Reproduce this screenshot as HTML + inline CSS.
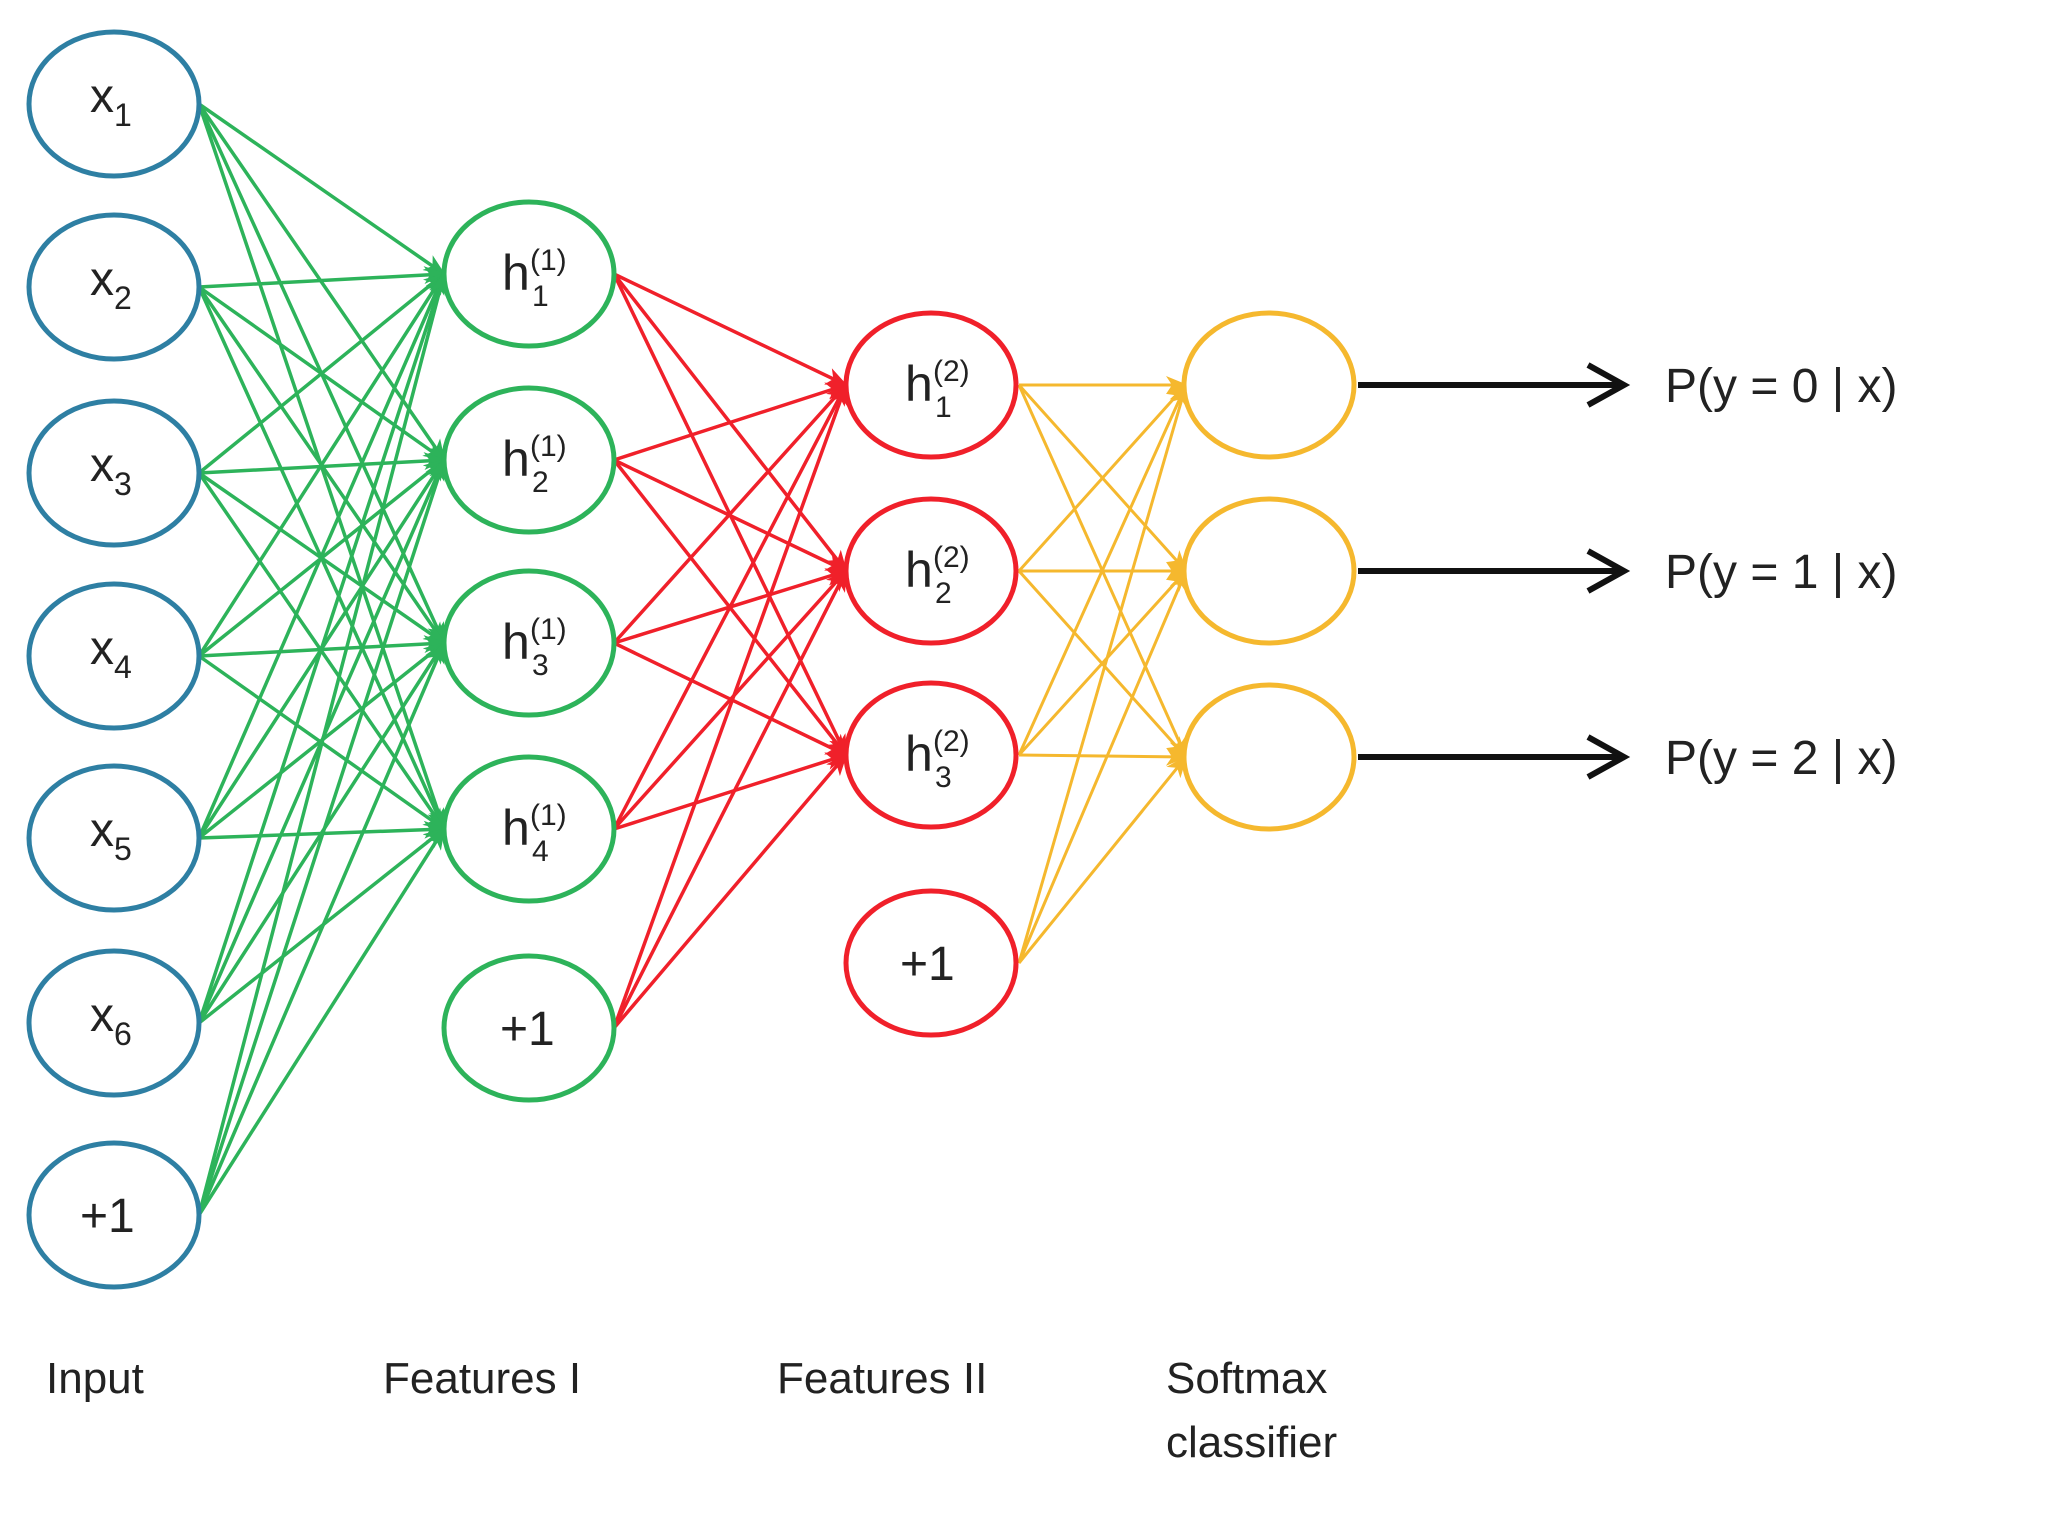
<!DOCTYPE html>
<html><head><meta charset="utf-8"><style>
html,body{margin:0;padding:0;background:#fff;}
svg{display:block;}
text{font-family:"Liberation Sans",sans-serif;fill:#222;}
</style></head><body>
<svg width="2048" height="1536" viewBox="0 0 2048 1536" xmlns="http://www.w3.org/2000/svg">
<defs>
<marker id="ag" markerUnits="userSpaceOnUse" markerWidth="22" markerHeight="18" refX="20" refY="9" orient="auto"><path d="M0,0 L22,9 L0,18 L6,9 Z" fill="#2db35a"/></marker>
<marker id="ar" markerUnits="userSpaceOnUse" markerWidth="22" markerHeight="18" refX="20" refY="9" orient="auto"><path d="M0,0 L22,9 L0,18 L6,9 Z" fill="#f0202a"/></marker>
<marker id="ay" markerUnits="userSpaceOnUse" markerWidth="22" markerHeight="18" refX="20" refY="9" orient="auto"><path d="M0,0 L22,9 L0,18 L6,9 Z" fill="#f5b82e"/></marker>
</defs>
<g stroke="#2db35a" stroke-width="3.5" marker-end="url(#ag)">
<line x1="199" y1="104" x2="444" y2="274"/><line x1="199" y1="104" x2="444" y2="460"/><line x1="199" y1="104" x2="444" y2="643"/><line x1="199" y1="104" x2="444" y2="829"/>
<line x1="199" y1="287" x2="444" y2="274"/><line x1="199" y1="287" x2="444" y2="460"/><line x1="199" y1="287" x2="444" y2="643"/><line x1="199" y1="287" x2="444" y2="829"/>
<line x1="199" y1="473" x2="444" y2="274"/><line x1="199" y1="473" x2="444" y2="460"/><line x1="199" y1="473" x2="444" y2="643"/><line x1="199" y1="473" x2="444" y2="829"/>
<line x1="199" y1="656" x2="444" y2="274"/><line x1="199" y1="656" x2="444" y2="460"/><line x1="199" y1="656" x2="444" y2="643"/><line x1="199" y1="656" x2="444" y2="829"/>
<line x1="199" y1="838" x2="444" y2="274"/><line x1="199" y1="838" x2="444" y2="460"/><line x1="199" y1="838" x2="444" y2="643"/><line x1="199" y1="838" x2="444" y2="829"/>
<line x1="199" y1="1023" x2="444" y2="274"/><line x1="199" y1="1023" x2="444" y2="460"/><line x1="199" y1="1023" x2="444" y2="643"/><line x1="199" y1="1023" x2="444" y2="829"/>
<line x1="199" y1="1215" x2="444" y2="274"/><line x1="199" y1="1215" x2="444" y2="460"/><line x1="199" y1="1215" x2="444" y2="643"/><line x1="199" y1="1215" x2="444" y2="829"/>
</g>
<g stroke="#f0202a" stroke-width="3.5" marker-end="url(#ar)">
<line x1="614" y1="274" x2="846" y2="385"/><line x1="614" y1="274" x2="846" y2="571"/><line x1="614" y1="274" x2="846" y2="755"/>
<line x1="614" y1="460" x2="846" y2="385"/><line x1="614" y1="460" x2="846" y2="571"/><line x1="614" y1="460" x2="846" y2="755"/>
<line x1="614" y1="643" x2="846" y2="385"/><line x1="614" y1="643" x2="846" y2="571"/><line x1="614" y1="643" x2="846" y2="755"/>
<line x1="614" y1="829" x2="846" y2="385"/><line x1="614" y1="829" x2="846" y2="571"/><line x1="614" y1="829" x2="846" y2="755"/>
<line x1="614" y1="1028" x2="846" y2="385"/><line x1="614" y1="1028" x2="846" y2="571"/><line x1="614" y1="1028" x2="846" y2="755"/>
</g>
<g stroke="#f5b82e" stroke-width="3" marker-end="url(#ay)">
<line x1="1019" y1="385" x2="1186" y2="385"/><line x1="1019" y1="385" x2="1186" y2="571"/><line x1="1019" y1="385" x2="1186" y2="757"/>
<line x1="1019" y1="571" x2="1186" y2="385"/><line x1="1019" y1="571" x2="1186" y2="571"/><line x1="1019" y1="571" x2="1186" y2="757"/>
<line x1="1019" y1="755" x2="1186" y2="385"/><line x1="1019" y1="755" x2="1186" y2="571"/><line x1="1019" y1="755" x2="1186" y2="757"/>
<line x1="1019" y1="963" x2="1186" y2="385"/><line x1="1019" y1="963" x2="1186" y2="571"/><line x1="1019" y1="963" x2="1186" y2="757"/>
</g>
<g fill="#fff" stroke-width="5">
<g stroke="#2e7fa3">
<ellipse cx="114" cy="104" rx="85" ry="72"/><ellipse cx="114" cy="287" rx="85" ry="72"/><ellipse cx="114" cy="473" rx="85" ry="72"/><ellipse cx="114" cy="656" rx="85" ry="72"/><ellipse cx="114" cy="838" rx="85" ry="72"/><ellipse cx="114" cy="1023" rx="85" ry="72"/><ellipse cx="114" cy="1215" rx="85" ry="72"/>
</g>
<g stroke="#2db35a">
<ellipse cx="529" cy="274" rx="85" ry="72"/><ellipse cx="529" cy="460" rx="85" ry="72"/><ellipse cx="529" cy="643" rx="85" ry="72"/><ellipse cx="529" cy="829" rx="85" ry="72"/><ellipse cx="529" cy="1028" rx="85" ry="72"/>
</g>
<g stroke="#f0202a">
<ellipse cx="931" cy="385" rx="85" ry="72"/><ellipse cx="931" cy="571" rx="85" ry="72"/><ellipse cx="931" cy="755" rx="85" ry="72"/><ellipse cx="931" cy="963" rx="85" ry="72"/>
</g>
<g stroke="#f5b82e">
<ellipse cx="1269" cy="385" rx="85" ry="72"/><ellipse cx="1269" cy="571" rx="85" ry="72"/><ellipse cx="1269" cy="757" rx="85" ry="72"/>
</g>
</g>
<g stroke="#111" stroke-width="6" fill="none">
<line x1="1358" y1="385" x2="1622" y2="385"/><polyline points="1588,365 1624,385 1588,405"/>
<line x1="1358" y1="571" x2="1622" y2="571"/><polyline points="1588,551 1624,571 1588,591"/>
<line x1="1358" y1="757" x2="1622" y2="757"/><polyline points="1588,737 1624,757 1588,777"/>
</g>
<g font-size="48">
<text x="90" y="112">x<tspan font-size="32" dy="14">1</tspan></text>
<text x="90" y="295">x<tspan font-size="32" dy="14">2</tspan></text>
<text x="90" y="481">x<tspan font-size="32" dy="14">3</tspan></text>
<text x="90" y="664">x<tspan font-size="32" dy="14">4</tspan></text>
<text x="90" y="846">x<tspan font-size="32" dy="14">5</tspan></text>
<text x="90" y="1031">x<tspan font-size="32" dy="14">6</tspan></text>
<text x="80" y="1232">+1</text>
<text x="500" y="1045">+1</text>
<text x="900" y="980">+1</text>
</g>
<g font-size="50">
<text x="502" y="290">h</text><text x="530" y="270" font-size="30">(1)</text><text x="532" y="306" font-size="30">1</text>
<text x="502" y="476">h</text><text x="530" y="456" font-size="30">(1)</text><text x="532" y="492" font-size="30">2</text>
<text x="502" y="659">h</text><text x="530" y="639" font-size="30">(1)</text><text x="532" y="675" font-size="30">3</text>
<text x="502" y="845">h</text><text x="530" y="825" font-size="30">(1)</text><text x="532" y="861" font-size="30">4</text>
<text x="905" y="401">h</text><text x="933" y="381" font-size="30">(2)</text><text x="935" y="417" font-size="30">1</text>
<text x="905" y="587">h</text><text x="933" y="567" font-size="30">(2)</text><text x="935" y="603" font-size="30">2</text>
<text x="905" y="771">h</text><text x="933" y="751" font-size="30">(2)</text><text x="935" y="787" font-size="30">3</text>
</g>
<g font-size="48">
<text x="1665" y="402">P(y = 0  |  x)</text>
<text x="1665" y="588">P(y = 1  |  x)</text>
<text x="1665" y="774">P(y = 2  |  x)</text>
</g>
<g font-size="44" fill="#333">
<text x="46" y="1393">Input</text>
<text x="383" y="1393">Features I</text>
<text x="777" y="1393">Features II</text>
<text x="1166" y="1393">Softmax</text>
<text x="1166" y="1457">classifier</text>
</g>
</svg>
</body></html>
